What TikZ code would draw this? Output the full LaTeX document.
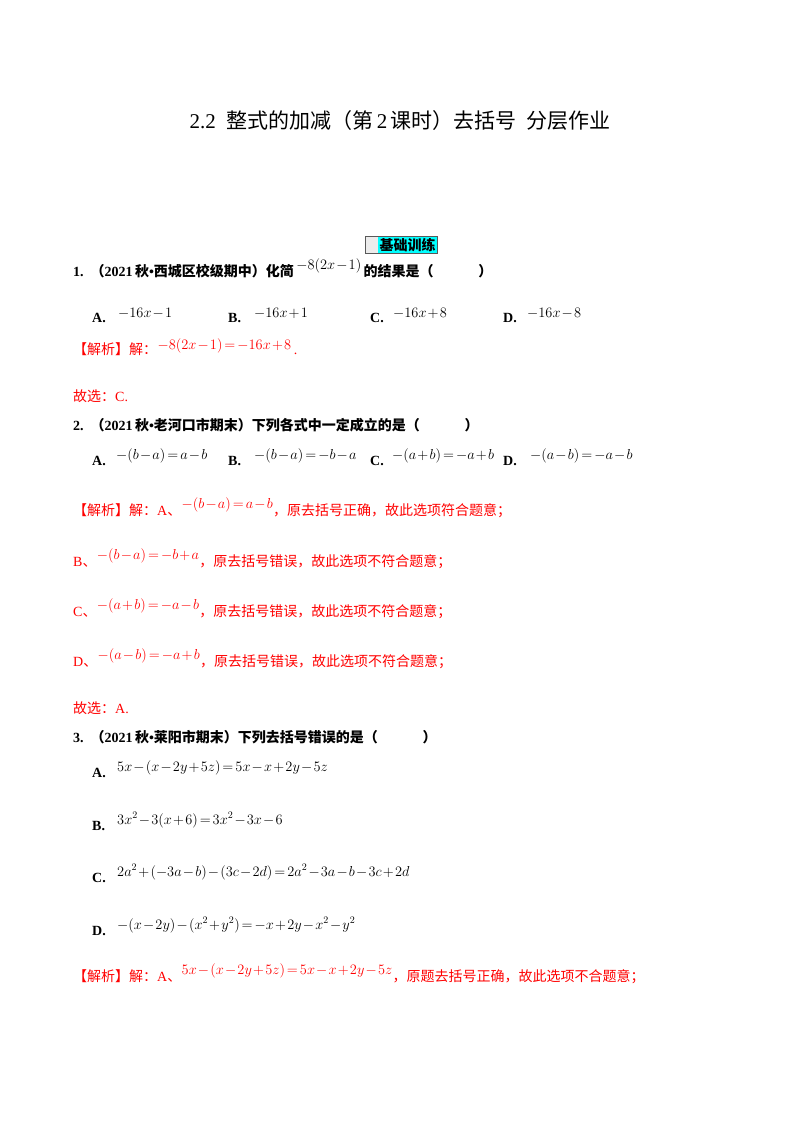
\documentclass[tikz,border=0pt]{standalone}
\usepackage{fontspec}
\setmainfont{Liberation Serif}
\newfontfamily\cjk{Noto Sans CJK SC}
\newcommand{\C}[1]{{\cjk #1}}
\newcommand{\CB}[1]{{\cjk\bfseries #1}}
\definecolor{ansred}{RGB}{255,0,0}
\definecolor{boxcyan}{RGB}{0,255,255}
\medmuskip=1.5mu plus 1mu
\thickmuskip=2.5mu plus 1mu
\begin{document}
\begin{tikzpicture}[x=1pt,y=-1pt,
  txt/.style={anchor=base west,inner sep=0pt,font=\fontsize{14}{17}\selectfont},
  q/.style={txt,font=\fontsize{14}{17}\selectfont\bfseries},
  opt/.style={txt,font=\fontsize{14}{17}\selectfont\bfseries},
  mth/.style={txt,font=\fontsize{14.5}{17}\selectfont},
  ans/.style={txt,text=ansred}]
\useasboundingbox (0,0) rectangle (800,1132);
\node[anchor=base,inner sep=0pt,font=\fontsize{21}{25}\selectfont] (title) at (400,128) {2.2\ \ \C{整式的加减（第}\,2\,\C{课时）去括号\ \ 分层作业}};
% box
\fill[gray!15] (365,236) rectangle (378,253);
\fill[boxcyan] (378,236) rectangle (437,253);
\draw[gray!70!black,line width=0.8pt] (365,236) rectangle (437,253);
\node[anchor=center,inner sep=0pt,font=\fontsize{14}{17}\selectfont] (box) at (407.5,245) {\CB{基础训练}};
% Q1
\node[q] (q1) at (73,276) {1.\ \ \CB{（}2021\,\CB{秋}•\CB{西城区校级期中）化简}};
\node[mth] (q1m) at (q1.base east) [yshift=7pt,xshift=2pt] {$-8(2x-1)$};
\node[q] (q1e) at (q1m.base east) [yshift=-7pt,xshift=2pt] {\CB{的结果是（\hspace{3.2em}）}};
\node[opt] (a1) at (92,322) {A.}; \node[mth] (a1m) at (118,317) {$-16x-1$};
\node[opt] (b1) at (228,322) {B.}; \node[mth] (b1m) at (254,317) {$-16x+1$};
\node[opt] (c1) at (370,322) {C.}; \node[mth] (c1m) at (393,317) {$-16x+8$};
\node[opt] (d1) at (503,322) {D.}; \node[mth] (d1m) at (527,317) {$-16x-8$};
\node[ans] (s1) at (73,354) {\C{【解析】解：}};
\node[mth,text=ansred] (s1m) at (s1.base east) [yshift=5pt] {$-8(2x-1)=-16x+8$};
\node[ans] (s1e) at (s1m.base east) [yshift=-5pt] {\,.};
\node[ans] (g1) at (73,401) {\C{故选：}C.};
% Q2
\node[q] (q2) at (73,430) {2.\ \ \CB{（}2021\,\CB{秋}•\CB{老河口市期末）下列各式中一定成立的是（\hspace{3.2em}）}};
\node[opt] (a2) at (92,465) {A.}; \node[mth] (a2m) at (116,459) {$-(b-a)=a-b$};
\node[opt] (b2) at (228,465) {B.}; \node[mth] (b2m) at (254,459) {$-(b-a)=-b-a$};
\node[opt] (c2) at (370,465) {C.}; \node[mth] (c2m) at (392,459) {$-(a+b)=-a+b$};
\node[opt] (d2) at (503,465) {D.}; \node[mth] (d2m) at (530,459) {$-(a-b)=-a-b$};
\node[ans] (s2) at (73,515) {\C{【解析】解：}A\C{、}};
\node[mth,text=ansred] (s2m) at (s2.base east) [yshift=7pt] {$-(b-a)=a-b$};
\node[ans] (s2e) at (s2m.base east) [yshift=-7pt] {\C{，原去括号正确，故此选项符合题意；}};
\node[ans] (s2b) at (73,566) {B\C{、}};
\node[mth,text=ansred] (s2bm) at (s2b.base east) [yshift=7pt] {$-(b-a)=-b+a$};
\node[ans] (s2be) at (s2bm.base east) [yshift=-7pt] {\C{，原去括号错误，故此选项不符合题意；}};
\node[ans] (s2c) at (73,616) {C\C{、}};
\node[mth,text=ansred] (s2cm) at (s2c.base east) [yshift=7pt] {$-(a+b)=-a-b$};
\node[ans] (s2ce) at (s2cm.base east) [yshift=-7pt] {\C{，原去括号错误，故此选项不符合题意；}};
\node[ans] (s2d) at (73,666) {D\C{、}};
\node[mth,text=ansred] (s2dm) at (s2d.base east) [yshift=7pt] {$-(a-b)=-a+b$};
\node[ans] (s2de) at (s2dm.base east) [yshift=-7pt] {\C{，原去括号错误，故此选项不符合题意；}};
\node[ans] (g2) at (73,713) {\C{故选：}A.};
% Q3
\node[q] (q3) at (73,742) {3.\ \ \CB{（}2021\,\CB{秋}•\CB{莱阳市期末）下列去括号错误的是（\hspace{3.2em}）}};
\node[opt] (a3) at (92,777) {A.}; \node[mth] (a3m) at (117,771) {$5x-(x-2y+5z)=5x-x+2y-5z$};
\node[opt] (b3) at (92,830) {B.}; \node[mth] (b3m) at (117,824) {$3x^2-3(x+6)=3x^2-3x-6$};
\node[opt] (c3) at (92,882) {C.}; \node[mth] (c3m) at (117,876) {$2a^2+(-3a-b)-(3c-2d)=2a^2-3a-b-3c+2d$};
\node[opt] (d3) at (92,935) {D.}; \node[mth] (d3m) at (117,929) {$-(x-2y)-(x^2+y^2)=-x+2y-x^2-y^2$};
\node[ans] (s3) at (73,981) {\C{【解析】解：}A\C{、}};
\node[mth,text=ansred] (s3m) at (s3.base east) [yshift=7pt] {$5x-(x-2y+5z)=5x-x+2y-5z$};
\node[ans] (s3e) at (s3m.base east) [yshift=-7pt] {\C{，原题去括号正确，故此选项不合题意；}};
\end{tikzpicture}
\end{document}
